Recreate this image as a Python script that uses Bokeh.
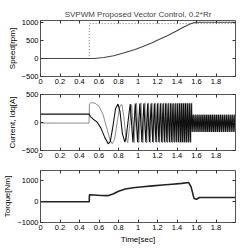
from bokeh.plotting import figure
from bokeh.models import FixedTicker, Range1d, LinearAxis
from bokeh.layouts import column
from bokeh.embed import file_html
from bokeh.resources import INLINE

# ---------------- data ----------------
x_ticks = [0, 0.2, 0.4, 0.6, 0.8, 1.0, 1.2, 1.4, 1.6, 1.8]
x_tick_labels = ["0", "0.2", "0.4", "0.6", "0.8", "1", "1.2", "1.4", "1.6", "1.8"]

speed_ticks = [-500, 0, 500, 1000]
current_ticks = [-500, 0, 500]
torque_ticks = [-1000, 0, 1000]

# speed
speed_ref_t = [0, 0.5, 0.5, 2.0]
speed_ref_v = [0, 0, 965, 965]
speed_t = [0, 0.55, 0.65, 0.75, 0.85, 0.97, 1.05, 1.14, 1.22, 1.30, 1.39, 1.47, 1.54, 1.59, 2.0]
speed_v = [0, 0, 25, 75, 150, 250, 330, 430, 530, 630, 750, 870, 960, 1000, 1000]

# current trace A (grey)
curA_t_start = [0, 0.498, 0.502, 0.52, 0.56, 0.60, 0.64, 0.68, 0.71, 0.735, 0.76, 0.79, 0.815, 0.835,
                0.855, 0.875, 0.895, 0.915, 0.935]
curA_v_start = [-10, -10, 330, 355, 345, 290, 150, -100, -300, -380, -300, 50, 300, 320,
                100, -250, -360, -50, 320]
curA_t_dense = [0.96, 0.985, 1.008, 1.03, 1.05, 1.07, 1.09, 1.108, 1.126, 1.143, 1.16, 1.176, 1.192,
                1.207, 1.222, 1.236, 1.25, 1.264, 1.277, 1.29, 1.303, 1.316, 1.328, 1.34, 1.352,
                1.364, 1.376, 1.387, 1.398, 1.409, 1.42, 1.431, 1.441, 1.451, 1.461, 1.471, 1.481,
                1.491, 1.501, 1.511, 1.521, 1.531, 1.541, 1.551]
curA_v_dense = [-360, 350, -360, 350, -360, 350, -360, 350, -360, 350,
                -360, 350, -360, 350, -360, 350, -360, 350, -360, 350,
                -360, 350, -360, 350, -360, 350, -360, 350, -360, 350,
                -360, 350, -360, 350, -360, 350, -360, 350, -360, 350,
                -360, 350, -360, 350]
curA_t_tail = [1.56, 1.57, 1.58, 1.59, 1.60, 1.61, 1.62, 1.63, 1.64, 1.65, 1.66, 1.67, 1.68, 1.69,
               1.70, 1.71, 1.72, 1.73, 1.74, 1.75, 1.76, 1.77, 1.78, 1.79, 1.80, 1.81, 1.82, 1.83,
               1.84, 1.85, 1.86, 1.87, 1.88, 1.89, 1.90, 1.91, 1.92, 1.93, 1.94, 1.95, 1.96, 1.97,
               1.98, 1.99, 2.00]
curA_v_tail = [-170, 140, -170, 140, -170, 140, -170, 140, -170, 140,
               -170, 140, -170, 140, -170, 140, -170, 140, -170, 140,
               -170, 140, -170, 140, -170, 140, -170, 140, -170, 140,
               -170, 140, -170, 140, -170, 140, -170, 140, -170, 140,
               -170, 140, -170, 140, -170]

# current trace B (black)
curB_t_start = [0, 0.498, 0.51, 0.54, 0.58, 0.62, 0.66, 0.695, 0.715, 0.74, 0.77, 0.795, 0.815,
                0.84, 0.865, 0.88, 0.90, 0.92]
curB_v_start = [150, 150, 110, 60, 10, -100, -270, -380, -340, -100, 250, 330, 200,
                -200, -350, -250, 50, 330]
curB_t_dense = [0.948, 0.972, 0.996, 1.019, 1.04, 1.06, 1.08, 1.099, 1.117, 1.134, 1.151, 1.168,
                1.184, 1.199, 1.214, 1.229, 1.243, 1.257, 1.27, 1.283, 1.296, 1.309, 1.322, 1.334,
                1.346, 1.358, 1.37, 1.381, 1.392, 1.403, 1.414, 1.425, 1.436, 1.446, 1.456, 1.466,
                1.476, 1.486, 1.496, 1.506, 1.516, 1.526, 1.536, 1.546]
curB_v_dense = [-350, 340, -350, 340, -350, 340, -350, 340, -350, 340,
                -350, 340, -350, 340, -350, 340, -350, 340, -350, 340,
                -350, 340, -350, 340, -350, 340, -350, 340, -350, 340,
                -350, 340, -350, 340, -350, 340, -350, 340, -350, 340,
                -350, 340, -350, 340]
curB_t_tail = [1.555, 1.565, 1.575, 1.585, 1.595, 1.605, 1.615, 1.625, 1.635, 1.645, 1.655, 1.665,
               1.675, 1.685, 1.695, 1.705, 1.715, 1.725, 1.735, 1.745, 1.755, 1.765, 1.775, 1.785,
               1.795, 1.805, 1.815, 1.825, 1.835, 1.845, 1.855, 1.865, 1.875, 1.885, 1.895, 1.905,
               1.915, 1.925, 1.935, 1.945, 1.955, 1.965, 1.975, 1.985, 1.995]
curB_v_tail = [-170, 140, -170, 140, -170, 140, -170, 140, -170, 140,
               -170, 140, -170, 140, -170, 140, -170, 140, -170, 140,
               -170, 140, -170, 140, -170, 140, -170, 140, -170, 140,
               -170, 140, -170, 140, -170, 140, -170, 140, -170, 140,
               -170, 140, -170, 140, -170]

# torque
torque_t = [0, 0.5, 0.502, 0.55, 0.62, 0.69, 0.75, 0.80, 0.87, 0.95, 1.05, 1.15, 1.25, 1.35,
            1.45, 1.52, 1.545, 1.575, 1.60, 1.63, 2.0]
torque_v = [0, 0, 330, 320, 300, 290, 380, 500, 610, 670, 720, 760, 800, 840,
            880, 920, 700, 150, 120, 200, 200]

title_text = "SVPWM Proposed Vector Control, 0.2*Rr"

FONT = "Liberation Sans"
TICK_FS = "7.5px"
LABEL_FS = "8px"


def tick_only_axis(ticks):
    ax = LinearAxis(ticker=FixedTicker(ticks=ticks))
    ax.axis_line_color = None
    ax.major_tick_in = 3
    ax.major_tick_out = 0
    ax.minor_tick_line_color = None
    ax.major_tick_line_color = "#333333"
    ax.major_label_text_color = None
    ax.major_label_text_font_size = "1px"
    ax.major_label_standoff = 0
    return ax


def make_fig(height, top, bottom, y_range, y_ticks, ylabel, xlabel=None, title=None):
    p = figure(width=239, height=height, output_backend="svg", toolbar_location=None,
               x_range=Range1d(0, 2), y_range=Range1d(*y_range),
               min_border_left=37, min_border_right=4, min_border_top=top, min_border_bottom=bottom,
               title=title)
    p.background_fill_color = "white"
    p.border_fill_color = "white"
    p.grid.visible = False
    p.outline_line_color = "#555555"
    p.outline_line_width = 1
    p.xaxis.ticker = FixedTicker(ticks=x_ticks)
    p.xaxis.major_label_overrides = {t: l for t, l in zip(x_ticks, x_tick_labels)}
    p.yaxis.ticker = FixedTicker(ticks=y_ticks)
    for ax in (p.xaxis[0], p.yaxis[0]):
        ax.axis_line_color = None
        ax.major_tick_in = 3
        ax.major_tick_out = 0
        ax.minor_tick_line_color = None
        ax.major_tick_line_color = "#333333"
        ax.major_label_text_font = FONT
        ax.major_label_text_font_size = TICK_FS
        ax.major_label_text_color = "black"
        ax.major_label_standoff = 2
        ax.axis_label_text_font = FONT
        ax.axis_label_text_font_size = LABEL_FS
        ax.axis_label_text_font_style = "normal"
        ax.axis_label_text_color = "black"
        ax.axis_label_standoff = 2
    p.yaxis.axis_label = ylabel
    if xlabel:
        p.xaxis.axis_label = xlabel
    p.add_layout(tick_only_axis(x_ticks), "above")
    p.add_layout(tick_only_axis(y_ticks), "right")
    if title:
        p.title.text_font = FONT
        p.title.text_font_size = "8px"
        p.title.text_font_style = "normal"
        p.title.align = "center"
        p.title.standoff = 4
    return p


p1 = make_fig(88, 20, 12, (-500, 1050), speed_ticks, "Speed[rpm]", title=title_text)
p1.line(speed_ref_t, speed_ref_v, line_color="#555555", line_width=0.8, line_dash="1 2")
p1.line(speed_t, speed_v, line_color="#444444", line_width=1.1)

p2 = make_fig(76, 6, 14, (-500, 500), current_ticks, "Current, Idq[A]")
curA_t = curA_t_start + curA_t_dense + curA_t_tail
curA_v = curA_v_start + curA_v_dense + curA_v_tail
curB_t = curB_t_start + curB_t_dense + curB_t_tail
curB_v = curB_v_start + curB_v_dense + curB_v_tail
p2.line(curA_t, curA_v, line_color="#8a8a8a", line_width=1)
p2.line(curB_t, curB_v, line_color="#111111", line_width=1.1)

p3 = make_fig(82, 6, 20, (-1000, 1500), torque_ticks, "Torque[Nm]", xlabel="Time[sec]")
p3.line(torque_t, torque_v, line_color="#222222", line_width=1.6)

layout = column(p1, p2, p3, spacing=0)
open("out.html", "w").write(file_html(layout, INLINE))
